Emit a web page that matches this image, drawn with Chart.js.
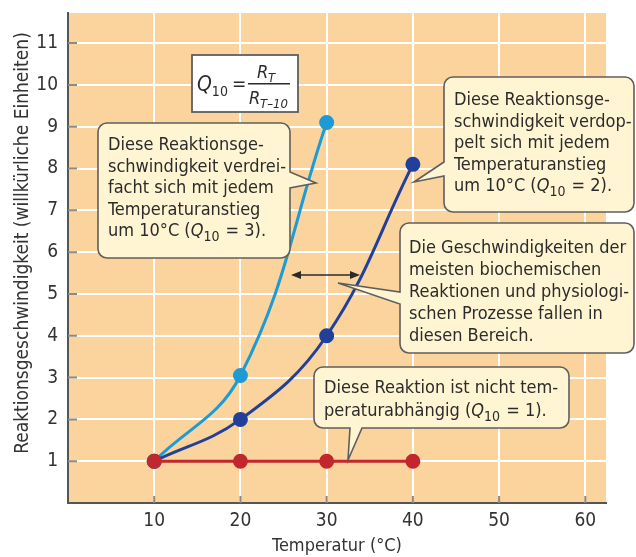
<!DOCTYPE html>
<html lang="de">
<head>
  <meta charset="UTF-8" />
  <title>Q10 – Reaktionsgeschwindigkeit</title>
  <script src="https://cdn.jsdelivr.net/npm/chart.js"></script>
  <style>
    html, body { margin: 0; padding: 0; background: #fff; }
    canvas { display: block; }
  </style>
</head>
<body>
  <canvas id="grafico" width="636" height="557"></canvas>

  <script>
    // Daten
    var temperaturen = [10, 20, 30, 40];
    var werteQ3 = [1, 3.05, 9.1];
    var werteQ2 = [1, 2, 4, 8.1];
    var werteQ1 = [1, 1, 1, 1];
    var xTicks = [10, 20, 30, 40, 50, 60];
    var yTicks = [1, 2, 3, 4, 5, 6, 7, 8, 9, 10, 11];

    var SCHRIFT = "'Liberation Sans Narrow', 'DejaVu Sans Condensed', 'Roboto Condensed', Roboto, sans-serif";
    var HELLBLAU = "#1c9bd6";
    var DUNKELBLAU = "#21409a";
    var ROT = "#c1272d";

    function punkte(werte) {
      var p = [];
      for (var i = 0; i < werte.length; i++) {
        p.push({ x: temperaturen[i], y: werte[i] });
      }
      return p;
    }

    // Text mit "Q10" (Q kursiv, 10 tiefgestellt)
    function textZeile(ctx, x, y, text, size) {
      var teile = text.split("Q10");
      ctx.textBaseline = "alphabetic";
      ctx.textAlign = "left";
      for (var i = 0; i < teile.length; i++) {
        ctx.font = size + "px " + SCHRIFT;
        ctx.fillText(teile[i], x, y);
        x += ctx.measureText(teile[i]).width;
        if (i < teile.length - 1) {
          ctx.font = "italic " + size + "px " + SCHRIFT;
          ctx.fillText("Q", x, y);
          x += ctx.measureText("Q").width;
          ctx.font = Math.round(size * 0.75) + "px " + SCHRIFT;
          ctx.fillText("10", x, y + 5);
          x += ctx.measureText("10").width + 1;
        }
      }
    }

    function sprechblase(ctx, b) {
      var x = b.x, y = b.y, w = b.w, h = b.h, r = 9, t = b.tail;
      ctx.beginPath();
      ctx.moveTo(x + r, y);
      ctx.lineTo(x + w - r, y);
      ctx.arcTo(x + w, y, x + w, y + r, r);
      if (t.side === "right") {
        ctx.lineTo(x + w, t.a); ctx.lineTo(t.tx, t.ty); ctx.lineTo(x + w, t.b);
      }
      ctx.lineTo(x + w, y + h - r);
      ctx.arcTo(x + w, y + h, x + w - r, y + h, r);
      if (t.side === "bottom") {
        ctx.lineTo(t.a, y + h); ctx.lineTo(t.tx, t.ty); ctx.lineTo(t.b, y + h);
      }
      ctx.lineTo(x + r, y + h);
      ctx.arcTo(x, y + h, x, y + h - r, r);
      if (t.side === "left") {
        ctx.lineTo(x, t.a); ctx.lineTo(t.tx, t.ty); ctx.lineTo(x, t.b);
      }
      ctx.lineTo(x, y + r);
      ctx.arcTo(x, y, x + r, y, r);
      ctx.closePath();
      ctx.fillStyle = "#fff5d3";
      ctx.fill();
      ctx.lineWidth = 1.6;
      ctx.strokeStyle = "#5e5e5e";
      ctx.stroke();

      ctx.fillStyle = "#2b2b2b";
      for (var i = 0; i < b.lines.length; i++) {
        textZeile(ctx, b.tx, b.ty + i * b.lh, b.lines[i], 18);
      }
    }

    var blasen = [
      {
        x: 98, y: 123, w: 192, h: 135, tx: 108, ty: 150, lh: 21.5,
        tail: { side: "right", a: 172, b: 188, tx: 316, ty: 183 },
        lines: ["Diese Reaktionsge-", "schwindigkeit verdrei-", "facht sich mit jedem", "Temperaturanstieg", "um 10°C (Q10 = 3)."]
      },
      {
        x: 444, y: 77, w: 190, h: 135, tx: 454, ty: 105, lh: 21.5,
        tail: { side: "left", a: 176, b: 162, tx: 414, ty: 182 },
        lines: ["Diese Reaktionsge-", "schwindigkeit verdop-", "pelt sich mit jedem", "Temperaturanstieg", "um 10°C (Q10 = 2)."]
      },
      {
        x: 400, y: 223, w: 234, h: 130, tx: 409, ty: 253, lh: 22,
        tail: { side: "left", a: 304, b: 292, tx: 338, ty: 283 },
        lines: ["Die Geschwindigkeiten der", "meisten biochemischen", "Reaktionen und physiologi-", "schen Prozesse fallen in", "diesen Bereich."]
      },
      {
        x: 314, y: 367, w: 255, h: 61, tx: 324, ty: 393, lh: 23,
        tail: { side: "bottom", a: 362, b: 350, tx: 348, ty: 460 },
        lines: ["Diese Reaktion ist nicht tem-", "peraturabhängig (Q10 = 1)."]
      }
    ];

    var hintergrund = {
      id: "hintergrund",
      beforeDraw: function (chart) {
        var a = chart.chartArea, ctx = chart.ctx;
        ctx.save();
        ctx.fillStyle = "#fad49c";
        ctx.fillRect(a.left, a.top, a.right - a.left, a.bottom - a.top);
        ctx.restore();
      },
      beforeDatasetsDraw: function (chart) {
        // kurze graue Striche innen an den Achsen
        var a = chart.chartArea, ctx = chart.ctx;
        var sx = chart.scales.x, sy = chart.scales.y;
        ctx.save();
        ctx.strokeStyle = "#8a8a8a";
        ctx.lineWidth = 2;
        ctx.beginPath();
        for (var i = 0; i < yTicks.length; i++) {
          var py = sy.getPixelForValue(yTicks[i]);
          ctx.moveTo(a.left, py); ctx.lineTo(a.left + 9, py);
        }
        for (var j = 0; j < xTicks.length; j++) {
          var px = sx.getPixelForValue(xTicks[j]);
          ctx.moveTo(px, a.bottom); ctx.lineTo(px, a.bottom - 7);
        }
        ctx.stroke();
        ctx.restore();
      },
      afterDraw: function (chart) {
        var ctx = chart.ctx;
        ctx.save();

        // y-Achsentitel
        ctx.save();
        ctx.translate(23, 243);
        ctx.rotate(-Math.PI / 2);
        ctx.fillStyle = "#333";
        ctx.font = "19px " + SCHRIFT;
        ctx.textAlign = "center";
        ctx.textBaseline = "middle";
        ctx.fillText("Reaktionsgeschwindigkeit (willkürliche Einheiten)", 0, 0);
        ctx.restore();

        // Formel-Kasten
        ctx.fillStyle = "#ffffff";
        ctx.fillRect(192, 55, 106, 57);
        ctx.strokeStyle = "#5e5e5e";
        ctx.lineWidth = 1.8;
        ctx.strokeRect(192, 55, 106, 57);
        ctx.fillStyle = "#2b2b2b";
        ctx.textBaseline = "alphabetic";
        ctx.textAlign = "left";
        var fx = 197;
        ctx.font = "italic 21px " + SCHRIFT;
        ctx.fillText("Q", fx, 91);
        fx += ctx.measureText("Q").width;
        ctx.font = "14px " + SCHRIFT;
        ctx.fillText("10", fx, 96);
        fx += ctx.measureText("10").width + 4;
        ctx.font = "19px " + SCHRIFT;
        ctx.fillText("=", fx, 90);
        ctx.font = "italic 18px " + SCHRIFT;
        ctx.fillText("R", 257, 78);
        ctx.font = "italic 13px " + SCHRIFT;
        ctx.fillText("T", 268, 82);
        ctx.fillRect(248, 83, 42, 1.5);
        ctx.font = "italic 18px " + SCHRIFT;
        ctx.fillText("R", 249, 104);
        ctx.font = "italic 13px " + SCHRIFT;
        ctx.fillText("T–10", 260, 108);

        // Doppelpfeil
        var y = 275, x1 = 291, x2 = 360;
        ctx.strokeStyle = "#2b2b2b";
        ctx.fillStyle = "#2b2b2b";
        ctx.lineWidth = 1.6;
        ctx.beginPath();
        ctx.moveTo(x1 + 6, y); ctx.lineTo(x2 - 6, y);
        ctx.stroke();
        ctx.beginPath();
        ctx.moveTo(x1, y); ctx.lineTo(x1 + 10, y - 4); ctx.lineTo(x1 + 10, y + 4); ctx.closePath();
        ctx.moveTo(x2, y); ctx.lineTo(x2 - 10, y - 4); ctx.lineTo(x2 - 10, y + 4); ctx.closePath();
        ctx.fill();

        for (var i = 0; i < blasen.length; i++) {
          sprechblase(ctx, blasen[i]);
        }
        ctx.restore();
      }
    };

    Chart.defaults.font.family = SCHRIFT;
    Chart.defaults.color = "#333";

    var chart = new Chart(document.getElementById("grafico"), {
      type: "line",
      data: {
        datasets: [
          {
            label: "Q10 = 1",
            data: punkte(werteQ1),
            borderColor: ROT,
            backgroundColor: ROT,
            borderWidth: 3,
            pointRadius: 6,
            pointHoverRadius: 6,
            tension: 0
          },
          {
            label: "Q10 = 2",
            data: punkte(werteQ2),
            borderColor: DUNKELBLAU,
            backgroundColor: DUNKELBLAU,
            borderWidth: 3,
            pointRadius: 6,
            pointHoverRadius: 6,
            tension: 0.4
          },
          {
            label: "Q10 = 3",
            data: punkte(werteQ3),
            borderColor: HELLBLAU,
            backgroundColor: HELLBLAU,
            borderWidth: 3,
            pointRadius: 6,
            pointHoverRadius: 6,
            tension: 0.4
          }
        ]
      },
      options: {
        responsive: false,
        animation: false,
        devicePixelRatio: 1,
        layout: { padding: { top: 13, right: 30, left: 0, bottom: 0 } },
        plugins: {
          legend: { display: false },
          tooltip: { enabled: false }
        },
        scales: {
          x: {
            type: "linear",
            min: 0,
            max: 62.4,
            afterBuildTicks: function (s) {
              s.ticks = xTicks.map(function (v) { return { value: v }; });
            },
            afterFit: function (s) { s.height = 54; },
            grid: { color: "#ffffff", lineWidth: 2, drawTicks: false },
            border: { display: true, color: "#555", width: 2 },
            ticks: { padding: 7, font: { size: 19 }, color: "#333" },
            title: {
              display: true,
              text: "Temperatur (°C)",
              font: { size: 18 },
              color: "#333",
              padding: { top: 0, bottom: 0 }
            }
          },
          y: {
            min: 0,
            max: 11.72,
            afterBuildTicks: function (s) {
              s.ticks = yTicks.map(function (v) { return { value: v }; });
            },
            afterFit: function (s) {
              s.width = 68;
              s.paddingTop = 0;
              s.paddingBottom = 0;
            },
            grid: { color: "#ffffff", lineWidth: 2, drawTicks: false },
            border: { display: true, color: "#555", width: 2 },
            ticks: { padding: 10, font: { size: 19 }, color: "#333" }
          }
        }
      },
      plugins: [hintergrund]
    });
  </script>
</body>
</html>
